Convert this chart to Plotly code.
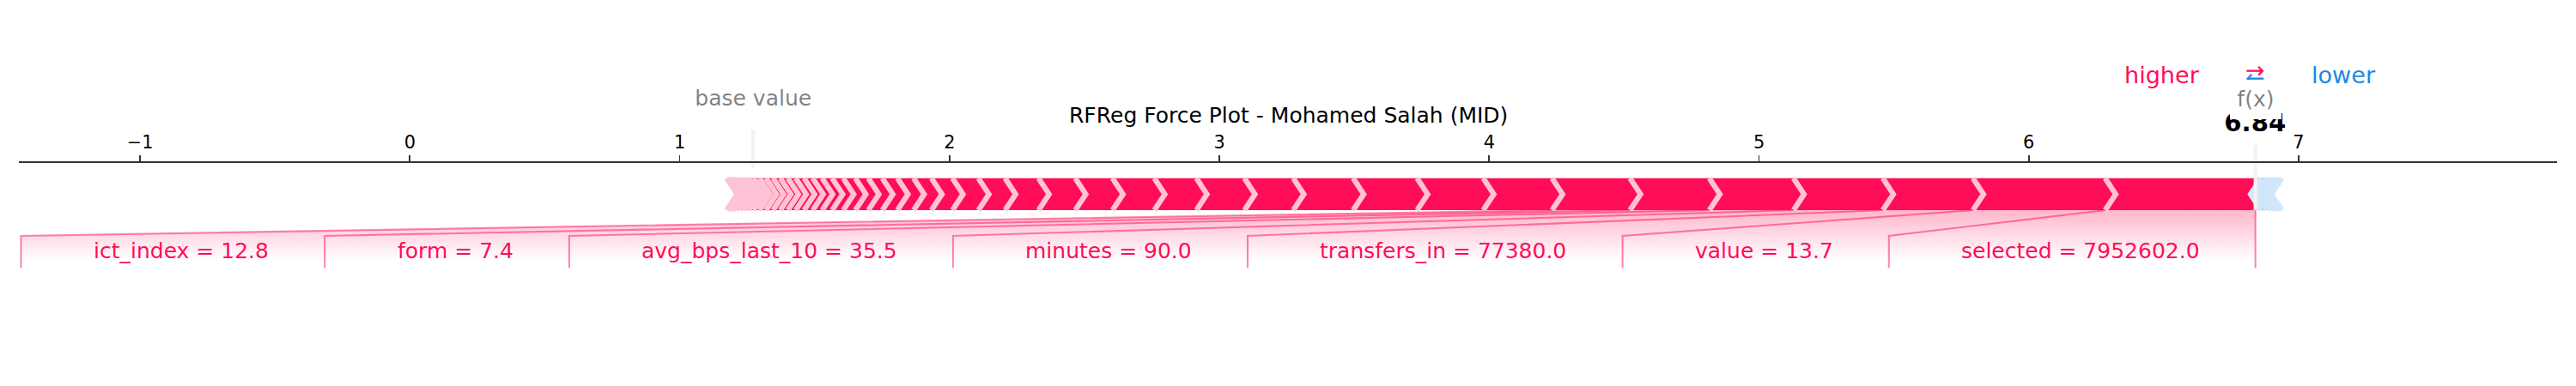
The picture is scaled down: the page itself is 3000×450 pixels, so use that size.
import numpy as np
import plotly.graph_objects as go

# ---------------- data ----------------
TITLE = "RFReg Force Plot - Mohamed Salah (MID)"
BASE_VALUE = 1.272
LABELED_NAMES = ["selected", "value", "transfers_in", "minutes",
                 "avg_bps_last_10", "form", "ict_index"]
LABELED_VALUES = ["7952602.0", "13.7", "77380.0", "90.0", "35.5", "7.4", "12.8"]
LABELED_EFFECTS = [0.557, 0.490, 0.334, 0.331, 0.312, 0.294, 0.289]
OTHER_POS_EFFECTS = [0.255, 0.245, 0.237, 0.222, 0.181, 0.178, 0.156, 0.155,
                     0.138, 0.136, 0.124, 0.099, 0.096, 0.078, 0.066, 0.060,
                     0.056, 0.052, 0.048, 0.045, 0.041, 0.037, 0.035, 0.032,
                     0.031, 0.029, 0.028, 0.027, 0.026, 0.024, 0.022, 0.019,
                     0.017, 0.015, 0.013, 0.011, 0.009, 0.007, 0.005, 0.004]
NEG_EFFECTS = [-0.021, -0.019, -0.017, -0.015, -0.012, -0.009, -0.005]
TICK_VALUES = [-1, 0, 1, 2, 3, 4, 5, 6, 7]
X_RANGE = [-1.449, 7.958]

# ---------------- style ----------------
FONT = "DejaVu Sans"
PINK, PINK_LIGHT = "#FF0D57", "#FFC3D5"
BLUE, BLUE_LIGHT = "#1E88E5", "#D1E6FA"
GREY_LINE = "#F2F2F2"
PT = 150 / 72.0
W, H = 3000, 450
ML, MR, MT, MB = 22, 22, 0, 18
SPINE_PX = 189                      # spine position from top (px)
Y_LO, Y_SPINE = -0.5, 0.15
PLOT_H = H - MT - MB
PX_PER_Y = (PLOT_H - SPINE_PX) / (Y_SPINE - Y_LO)
Y_HI = Y_SPINE + SPINE_PX / PX_PER_Y
BAR_W = 0.1
DESC = 0.236
LABEL_PAD_PX = 19

CHAR_W = {' ': .318, '.': .318, '=': .838, '_': .5, 'a': .613, 'b': .635,
          'c': .550, 'd': .635, 'e': .615, 'f': .352, 'g': .635, 'h': .634,
          'i': .278, 'j': .278, 'k': .579, 'l': .278, 'm': .974, 'n': .634,
          'o': .612, 'p': .635, 'q': .635, 'r': .411, 's': .521, 't': .392,
          'u': .634, 'v': .592, 'w': .818, 'x': .592, 'y': .592, 'z': .525}
for d in "0123456789":
    CHAR_W[d] = .636


def text_w(s, size):
    return sum(CHAR_W.get(c, 0.6) for c in s) * size


# ---------------- force-plot geometry ----------------
pos_eff = np.array(LABELED_EFFECTS + OTHER_POS_EFFECTS, dtype=float)
neg_eff = np.array(NEG_EFFECTS, dtype=float)
out_value = BASE_VALUE + pos_eff.sum() + neg_eff.sum()
pos_bounds = out_value - np.cumsum(np.abs(pos_eff))
neg_bounds = out_value + np.cumsum(np.abs(neg_eff))
total_pos = pos_bounds.max() - pos_bounds.min()
total_neg = neg_bounds.max() - neg_bounds.min()
padding = max(total_pos, total_neg) * 0.2
min_x = min(pos_bounds.min(), BASE_VALUE) - padding
max_x = max(neg_bounds.max(), BASE_VALUE) + padding
sep_w = (max_x - min_x) / 200.0
offset_text = (total_neg + total_pos) * 0.04
LABEL_SIZE = 12 * PT
PLOT_W = W - ML - MR
PPU = PLOT_W / (X_RANGE[1] - X_RANGE[0])


def layout_labels(ppu):
    start = out_value
    pre = out_value
    box_end = out_value
    lx, ly, texts = [out_value, out_value, None], [0, -0.18, None], []
    for name, v, b in zip(LABELED_NAMES, LABELED_VALUES, pos_bounds):
        t = f"{name} = {v}"
        right = start - offset_text
        bl = right - (text_w(t, LABEL_SIZE) + LABEL_PAD_PX) / ppu
        if bl > b:
            lx += [b, b, None]; ly += [0, -0.18, None]
            start = b; box_end = b
        else:
            box_end = bl - offset_text
            lx += [b, box_end, box_end, None]; ly += [0, -0.08, -0.18, None]
            start = box_end
        pre = b
        texts.append((right, t))
    return lx, ly, texts, box_end, pre


lab_x, lab_y, lab_texts, box_end, pre_val = layout_labels(PPU)

# bars
w2 = BAR_W / 2
rect_p_x, rect_p_y, sep_p_x, sep_p_y = [], [], [], []
prev = out_value
for i, lb in enumerate(pos_bounds):
    rb = prev
    if i == 0:
        px_ = [lb, rb, rb, lb, lb + sep_w]
        py_ = [0, 0, BAR_W, BAR_W, w2]
    else:
        px_ = [lb, rb, rb + sep_w, rb, lb, lb + sep_w]
        py_ = [0, 0, w2, BAR_W, BAR_W, w2]
    rect_p_x += px_ + [px_[0], None]; rect_p_y += py_ + [py_[0], None]
    sep_p_x += [lb, lb + sep_w, lb, None]; sep_p_y += [0, w2, BAR_W, None]
    prev = lb

rect_n_x, rect_n_y, sep_n_x, sep_n_y = [], [], [], []
prev = out_value
for i, rb in enumerate(neg_bounds):
    lb = prev
    if i == 0:
        px_ = [rb, lb, lb, rb, rb - sep_w]
        py_ = [0, 0, BAR_W, BAR_W, w2]
    else:
        px_ = [lb, rb, rb - sep_w, rb, lb, lb - sep_w]
        py_ = [0, 0, w2, BAR_W, BAR_W, w2]
    rect_n_x += px_ + [px_[0], None]; rect_n_y += py_ + [py_[0], None]
    sep_n_x += [rb, rb - sep_w, rb, None]; sep_n_y += [0, w2, BAR_W, None]
    prev = rb

fig = go.Figure()

# shading under the labels
fig.add_trace(go.Scatter(
    x=[out_value, pre_val, box_end, box_end, out_value, out_value],
    y=[0, 0, -0.08, -0.2, -0.2, 0], mode="lines", line=dict(width=0),
    fill="toself",
    fillgradient=dict(type="vertical", start=-0.2, stop=0.0,
                      colorscale=[[0, "rgb(255,255,255)"],
                                  [0.225, "rgb(255,255,255)"],
                                  [1, "rgb(255,182,205)"]]),
    hoverinfo="skip", showlegend=False))

for xs, ys, col in [(rect_n_x, rect_n_y, BLUE), (rect_p_x, rect_p_y, PINK)]:
    fig.add_trace(go.Scatter(x=xs, y=ys, mode="lines", line=dict(width=0),
                             fill="toself", fillcolor=col,
                             hoverinfo="skip", showlegend=False))
for xs, ys, col in [(sep_n_x, sep_n_y, BLUE_LIGHT), (sep_p_x, sep_p_y, PINK_LIGHT)]:
    fig.add_trace(go.Scatter(x=xs, y=ys, mode="lines",
                             line=dict(width=3 * PT, color=col),
                             hoverinfo="skip", showlegend=False))

# label connector lines
fig.add_trace(go.Scatter(x=lab_x, y=lab_y, mode="lines",
                         line=dict(width=1 * PT, color="rgba(255,13,87,0.5)"),
                         hoverinfo="skip", showlegend=False))
# base value / output lines
fig.add_trace(go.Scatter(x=[BASE_VALUE, BASE_VALUE, None, out_value, out_value],
                         y=[0.13, 0.25, None, 0, 0.24], mode="lines",
                         line=dict(width=2 * PT, color=GREY_LINE),
                         hoverinfo="skip", showlegend=False))


def add_text(x, y, text, size, color, xanchor="center", bg=None, pad=0,
             xref="x", extra_shift=0):
    kw = {}
    if bg:
        kw["bgcolor"] = bg
    fig.add_annotation(x=x, y=y, xref=xref, yref="y", text=text, showarrow=False,
                       xanchor=xanchor, yanchor="bottom",
                       yshift=-(DESC * size + pad) + extra_shift,
                       font=dict(family=FONT, size=size, color=color),
                       borderpad=pad, borderwidth=0, **kw)


for right, t in lab_texts:
    add_text(right, -0.15, t, LABEL_SIZE, PINK, xanchor="right")

# higher / lower legend
add_text(out_value - offset_text, 0.405, "higher", 13 * PT, PINK, xanchor="right",
         extra_shift=-3)
add_text(out_value + offset_text, 0.405, "lower", 13 * PT, BLUE, xanchor="left",
         extra_shift=-3)
add_text(out_value, 0.4, "←", 13 * PT, BLUE, extra_shift=-4)
add_text(out_value, 0.425, "→", 13 * PT, PINK, extra_shift=-4)

# base value and output labels
add_text(BASE_VALUE, 0.33, "base value", 12 * PT, "rgba(0,0,0,0.5)",
         bg="white", pad=4 * PT, extra_shift=-2)
add_text(out_value, 0.25, "<b>%.2f</b>" % out_value, 14 * PT, "black",
         bg="white", pad=4 * PT, extra_shift=-2)
add_text(out_value, 0.33, "f(x)", 12 * PT, "rgba(0,0,0,0.5)",
         bg="white", pad=4 * PT, extra_shift=-3)

# title
add_text(0.5, Y_SPINE, TITLE, 12 * PT, "black", xref="paper", extra_shift=46)

fig.update_layout(
    width=W, height=H,
    margin=dict(l=ML, r=MR, t=MT, b=MB, pad=0),
    paper_bgcolor="white", plot_bgcolor="white",
    showlegend=False,
    xaxis=dict(range=X_RANGE, side="top", anchor="free",
               position=(Y_SPINE - Y_LO) / (Y_HI - Y_LO),
               showgrid=False, zeroline=False, showline=True,
               linecolor="#333333", linewidth=2,
               ticks="outside", ticklen=7, tickwidth=1.7, tickcolor="#333333",
               tickvals=TICK_VALUES,
               tickfont=dict(family=FONT, size=10 * PT, color="black"),
               fixedrange=True),
    yaxis=dict(range=[Y_LO, Y_HI], visible=False, fixedrange=True),
)

fig.write_html("out.html",
               config={"displayModeBar": False, "staticPlot": True},
               post_script="document.body.style.margin='0px';"
                           "document.body.style.padding='0px';")
